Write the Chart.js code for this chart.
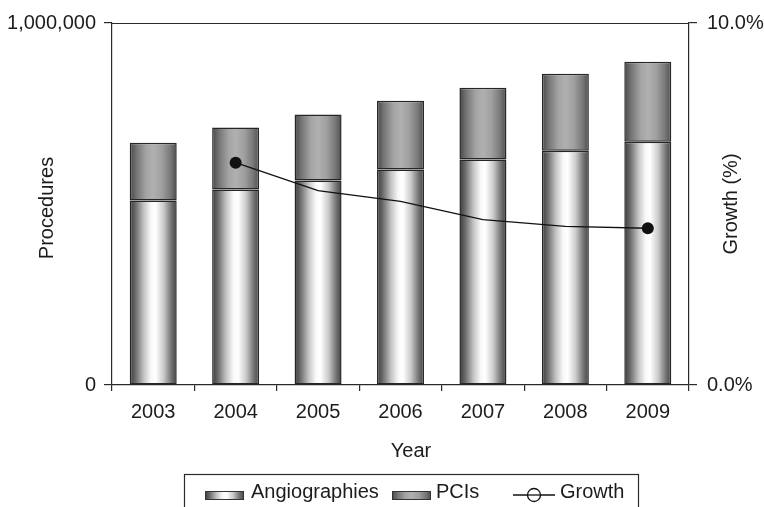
<!DOCTYPE html>
<html>
<head>
<meta charset="utf-8">
<script src="https://cdn.jsdelivr.net/npm/chart.js@4/dist/chart.umd.min.js"></script>
<style>
  html, body { margin: 0; padding: 0; background: #fff; }
  #wrap { width: 764px; height: 507px; position: relative; }
</style>
</head>
<body>
<div id="wrap"><canvas id="c" width="764" height="507"></canvas></div>
<script>
const years = ['2003', '2004', '2005', '2006', '2007', '2008', '2009'];
const angiographies = [510000, 540000, 565000, 595000, 623000, 647000, 672000];
const pcis = [159000, 171000, 182000, 190000, 198000, 213000, 221000];
const growth = [null, 6.14, 5.37, 5.07, 4.57, 4.38, 4.33];
const growthMarkers = [0, 6, 0, 0, 0, 0, 6];
const leftTicks = [0, 1000000];
const rightTicks = [0, 10];
const seriesNames = ['Angiographies', 'PCIs', 'Growth'];
const axisTitles = { x: 'Year', y: 'Procedures', y1: 'Growth (%)' };

const FONT = "'Liberation Sans', Arial, Helvetica, sans-serif";
const FS = 20;
const TEXT = '#1c1c1c';
const LINE = '#2a2a2a';
const BAR_PCT = 0.57;

const angioStops = [[0, '#3a3a3a'], [0.12, '#6a6a6a'], [0.3, '#c4c4c4'], [0.45, '#f8f8f8'], [0.55, '#ffffff'], [0.72, '#cbcbcb'], [0.88, '#767676'], [1, '#424242']];
const pciStops = [[0, '#474747'], [0.15, '#767676'], [0.35, '#a4a4a4'], [0.5, '#b0b0b0'], [0.68, '#a0a0a0'], [0.86, '#7a7a7a'], [1, '#4e4e4e']];

function makeGrad(ctx, x0, x1, stops) {
  const g = ctx.createLinearGradient(x0, 0, x1, 0);
  stops.forEach(s => g.addColorStop(s[0], s[1]));
  return g;
}

function barFill(stops) {
  return (c) => {
    const chart = c.chart;
    const xs = chart.scales.x;
    if (!chart.chartArea || !xs || c.dataIndex === undefined) return stops[3][1];
    const cx = xs.getPixelForValue(c.dataIndex);
    const half = (xs.width / years.length) * BAR_PCT / 2;
    return makeGrad(chart.ctx, cx - half, cx + half, stops);
  };
}

const framePlugin = {
  id: 'frame',
  afterDatasetsDraw(chart) {
    const { ctx, chartArea: a } = chart;
    ctx.save();
    ctx.strokeStyle = LINE;
    ctx.lineWidth = 1.2;
    ctx.beginPath();
    ctx.moveTo(a.left, a.top + 0.5);
    ctx.lineTo(a.right, a.top + 0.5);
    ctx.stroke();
    ctx.restore();
  },
  afterDraw(chart) {
    const { ctx, chartArea: a } = chart;
    const midY = (a.top + a.bottom) / 2;
    ctx.save();
    ctx.fillStyle = TEXT;
    ctx.font = FS + "px " + FONT;
    ctx.textAlign = 'center';
    ctx.textBaseline = 'middle';
    // x title
    ctx.fillText(axisTitles.x, 411, 451);
    // left title
    ctx.save();
    ctx.translate(47, midY + 4);
    ctx.rotate(-Math.PI / 2);
    ctx.fillText(axisTitles.y, 0, 0);
    ctx.restore();
    // right title (reads bottom-to-top as in reference)
    ctx.save();
    ctx.translate(731, midY);
    ctx.rotate(-Math.PI / 2);
    ctx.fillText(axisTitles.y1, 0, 0);
    ctx.restore();
    ctx.restore();
  }
};

const legendPlugin = {
  id: 'customLegend',
  afterDraw(chart) {
    const ctx = chart.ctx;
    ctx.save();
    ctx.strokeStyle = LINE;
    ctx.lineWidth = 1.2;
    ctx.strokeRect(184.5, 474.5, 454, 60);
    const ySw = 495;
    const yTxt = 492;
    const sw = (x, stops) => {
      ctx.fillStyle = makeGrad(ctx, x, x + 39, stops);
      ctx.fillRect(x, ySw - 4, 39, 9);
      ctx.lineWidth = 1;
      ctx.strokeStyle = '#333';
      ctx.strokeRect(x + 0.5, ySw - 3.5, 38, 8);
    };
    sw(205, angioStops);
    sw(392, pciStops);
    ctx.strokeStyle = '#111';
    ctx.lineWidth = 1.3;
    ctx.beginPath();
    ctx.moveTo(513, ySw);
    ctx.lineTo(555, ySw);
    ctx.stroke();
    ctx.beginPath();
    ctx.arc(534, ySw, 6.5, 0, Math.PI * 2);
    ctx.fillStyle = '#fff';
    ctx.fill();
    ctx.stroke();
    ctx.beginPath();
    ctx.moveTo(527.5, ySw);
    ctx.lineTo(540.5, ySw);
    ctx.stroke();
    ctx.fillStyle = TEXT;
    ctx.font = FS + "px " + FONT;
    ctx.textBaseline = 'middle';
    ctx.textAlign = 'left';
    ctx.fillText(seriesNames[0], 251, yTxt);
    ctx.fillText(seriesNames[1], 436, yTxt);
    ctx.fillText(seriesNames[2], 560, yTxt);
    ctx.restore();
  }
};

new Chart(document.getElementById('c'), {
  data: {
    labels: years,
    datasets: [
      {
        type: 'line',
        label: seriesNames[2],
        data: growth,
        yAxisID: 'y1',
        borderColor: '#111',
        borderWidth: 1.3,
        tension: 0,
        pointRadius: growthMarkers,
        pointHoverRadius: growthMarkers,
        pointBackgroundColor: '#111',
        pointBorderColor: '#111',
        pointBorderWidth: 0,
        fill: false,
        order: 0,
        spanGaps: true
      },
      {
        type: 'bar',
        label: seriesNames[0],
        data: angiographies,
        yAxisID: 'y',
        backgroundColor: barFill(angioStops),
        borderColor: '#262626',
        borderWidth: 1.5,
        borderSkipped: false,
        barPercentage: BAR_PCT,
        categoryPercentage: 1,
        stack: 's',
        order: 1
      },
      {
        type: 'bar',
        label: seriesNames[1],
        data: pcis,
        yAxisID: 'y',
        backgroundColor: barFill(pciStops),
        borderColor: '#262626',
        borderWidth: 1.5,
        borderSkipped: false,
        barPercentage: BAR_PCT,
        categoryPercentage: 1,
        stack: 's',
        order: 2
      }
    ]
  },
  options: {
    responsive: false,
    animation: false,
    events: [],
    layout: { padding: { left: 0, right: 0, top: 23, bottom: 40 } },
    plugins: {
      legend: { display: false },
      tooltip: { enabled: false },
      title: { display: false }
    },
    scales: {
      x: {
        stacked: true,
        offset: true,
        grid: { display: true, drawOnChartArea: false, drawTicks: true, tickLength: 6, color: LINE, lineWidth: 1.2, offset: true },
        border: { display: true, color: LINE, width: 1.2 },
        ticks: { color: TEXT, font: { family: FONT, size: FS }, padding: 9 },
        title: { display: false, text: axisTitles.x },
        afterFit(s) { s.height = 82; }
      },
      y: {
        type: 'linear',
        position: 'left',
        stacked: true,
        min: leftTicks[0],
        max: leftTicks[1],
        afterBuildTicks(s) { s.ticks = leftTicks.map(v => ({ value: v })); },
        grid: { display: true, drawOnChartArea: false, drawTicks: true, tickLength: 8, color: LINE, lineWidth: 1.2 },
        border: { display: true, color: LINE, width: 1.2 },
        ticks: { color: TEXT, font: { family: FONT, size: FS }, padding: 8, callback: v => Number(v).toLocaleString('en-US') },
        title: { display: false, text: axisTitles.y },
        afterFit(s) { s.width = 112; }
      },
      y1: {
        type: 'linear',
        position: 'right',
        min: rightTicks[0],
        max: rightTicks[1],
        afterBuildTicks(s) { s.ticks = rightTicks.map(v => ({ value: v })); },
        grid: { display: true, drawOnChartArea: false, drawTicks: true, tickLength: 8, color: LINE, lineWidth: 1.2 },
        border: { display: true, color: LINE, width: 1.2 },
        ticks: { color: TEXT, font: { family: FONT, size: FS }, padding: 10, callback: v => Number(v).toFixed(1) + '%' },
        title: { display: false, text: axisTitles.y1 },
        afterFit(s) { s.width = 75; }
      }
    }
  },
  plugins: [framePlugin, legendPlugin]
});
</script>
</body>
</html>
